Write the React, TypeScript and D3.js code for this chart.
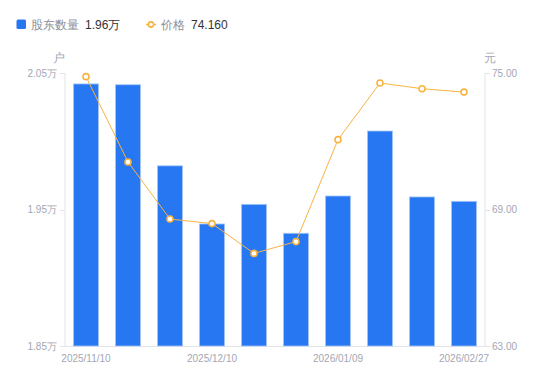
import React from "react";
import * as d3 from "d3";

const categories = ["2025/11/10","2025/11/20","2025/11/30","2025/12/10","2025/12/20","2025/12/31","2026/01/09","2026/01/20","2026/01/30","2026/02/27"];
const holders = [2.042, 2.0414, 1.982, 1.9394, 1.9538, 1.9326, 1.9599, 2.0075, 1.9592, 1.956];
const prices = [74.84, 71.09, 68.58, 68.38, 67.07, 67.59, 72.07, 74.56, 74.31, 74.16];
const leftTicks = [1.85, 1.95, 2.05];
const rightTicks = [63, 69, 75];
const shownLabels = ["2025/11/10", "2025/12/10", "2026/01/09", "2026/02/27"];

export default function App() {
  const W = 550, H = 381;
  const left = 65, right = 485, top = 73, bottom = 346;
  const x = d3.scaleBand().domain(categories).range([left, right]).paddingInner(0.4).paddingOuter(0.2);
  const xc = (c: string) => (x(c) as number) + x.bandwidth() / 2;
  const yL = d3.scaleLinear().domain([1.85, 2.05]).range([bottom, top]);
  const yR = d3.scaleLinear().domain([63, 75]).range([bottom, top]);
  const line = d3.line<number>().x((_, i) => xc(categories[i])).y(d => yR(d));
  const axisColor = "#e3e4e8";
  const tickText = "#a3a6b3";
  const font = "'Liberation Sans', Arial, sans-serif";
  return (
    <svg width={W} height={H} style={{ position: "absolute", left: 0, top: 0, fontFamily: font }}>
      <rect width={W} height={H} fill="#fff" />
      {/* legend */}
      <rect x={16.5} y={19.5} width={9.5} height={9.5} rx={1.5} fill="#2777f2" />
      <text x={31} y={29} fontSize={12} fill="#8a8e99">股东数量</text>
      <text x={85} y={29} fontSize={12} fill="#333">1.96万</text>
      <line x1={146} x2={156} y1={24.5} y2={24.5} stroke="#f8b442" strokeWidth={1.5} />
      <circle cx={151} cy={24.5} r={2.6} fill="#fff" stroke="#f8b442" strokeWidth={1.6} />
      <text x={161} y={29} fontSize={12} fill="#8a8e99">价格</text>
      <text x={191} y={29} fontSize={12} fill="#333">74.160</text>
      {/* unit labels */}
      <text x={59} y={62} fontSize={12} fill={tickText} textAnchor="middle">户</text>
      <text x={484} y={62} fontSize={12} fill={tickText}>元</text>
      {/* axes */}
      <line x1={left} x2={left} y1={top} y2={bottom} stroke={axisColor} />
      <line x1={right} x2={right} y1={top} y2={bottom} stroke={axisColor} />
      <line x1={left} x2={right} y1={bottom + 0.5} y2={bottom + 0.5} stroke={axisColor} />
      {leftTicks.map(t => (
        <g key={"l" + t}>
          <line x1={left - 5} x2={left} y1={Math.round(yL(t)) + 0.5} y2={Math.round(yL(t)) + 0.5} stroke={axisColor} />
          <text x={57} y={yL(t) + 3.5} fontSize={10} fill={tickText} textAnchor="end">{t.toFixed(2)}万</text>
        </g>
      ))}
      {rightTicks.map(t => (
        <g key={"r" + t}>
          <line x1={right} x2={right + 5} y1={Math.round(yR(t)) + 0.5} y2={Math.round(yR(t)) + 0.5} stroke={axisColor} />
          <text x={492} y={yR(t) + 3.5} fontSize={10} fill={tickText}>{t.toFixed(2)}</text>
        </g>
      ))}
      {shownLabels.map(c => (
        <text key={c} x={xc(c)} y={362} fontSize={10} fill={tickText} textAnchor="middle">{c}</text>
      ))}
      {/* bars */}
      {holders.map((v, i) => (
        <rect key={i} x={x(categories[i]) as number} y={yL(v)} width={x.bandwidth()} height={bottom - yL(v)}
          fill="#2777f2" stroke="#a9c9f9" strokeWidth={0.8} />
      ))}
      {/* line */}
      <path d={line(prices) as string} fill="none" stroke="#f8b442" strokeWidth={1} />
      {prices.map((p, i) => (
        <circle key={i} cx={xc(categories[i])} cy={yR(p)} r={3} fill="#fff" stroke="#f8b442" strokeWidth={1.6} />
      ))}
    </svg>
  );
}
